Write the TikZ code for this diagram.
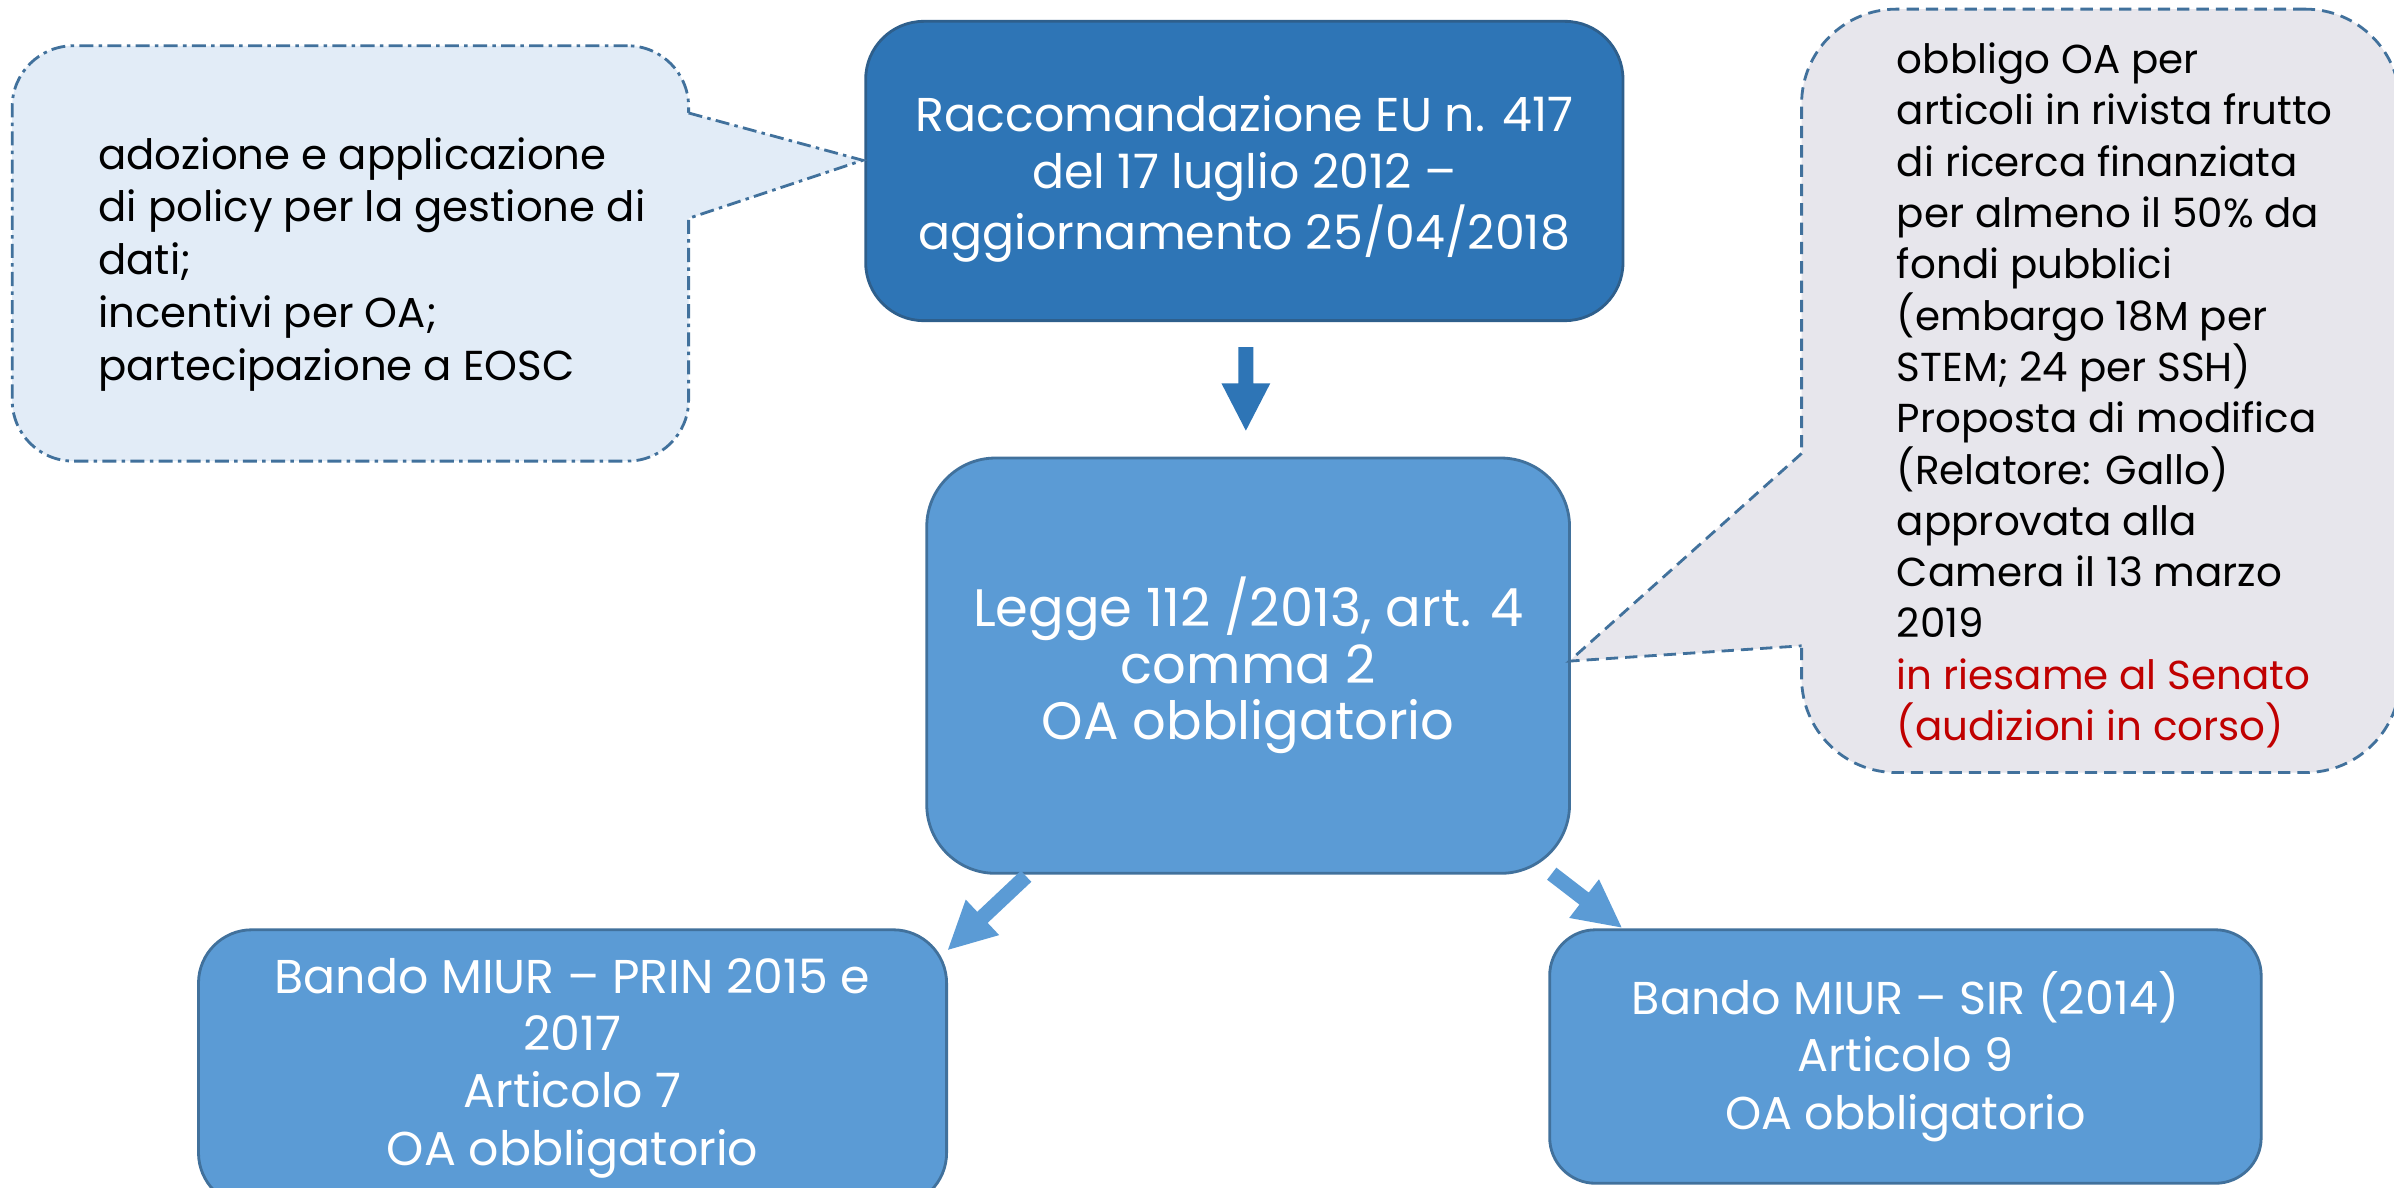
\documentclass[tikz,border=0pt]{standalone}
\usepackage{fontspec}
\setmainfont{Poppins}
\usetikzlibrary{calc}
\definecolor{topblue}{HTML}{2E75B6}
\definecolor{midblue}{HTML}{5B9BD5}
\definecolor{edgeblue}{HTML}{41719C}
\definecolor{topedge}{HTML}{2E5F8C}
\definecolor{lcfill}{HTML}{E2ECF7}
\definecolor{rcfill}{HTML}{E7E6EC}
\definecolor{darkred}{HTML}{C00000}
\tikzset{
  boxbase/.style={draw=edgeblue, line width=0.8pt, text=white, align=center, inner sep=0pt, fill=midblue},
  topbox/.style={boxbase, fill=topblue, draw=topedge},
  boxfont/.style={font=\fontsize{13.5}{16.3}\selectfont},
  callfont/.style={font=\fontsize{11.5}{14.5}\selectfont, text=black, align=left, inner sep=0pt},
  lcborder/.style={draw=edgeblue, line width=0.8pt, dash pattern=on 4pt off 1.5pt on 1pt off 1.5pt},
  rcborder/.style={draw=edgeblue, line width=0.8pt, dash pattern=on 3.5pt off 2pt},
}
\newcommand\blockarrow[3]{%
  \coordinate (ah) at ($(#3)!4.73mm!(#2)$);
  \fill[#1] ($(#2)!0.76mm!90:(#3)$) -- ($(ah)!0.76mm!90:(#3)$) -- ($(ah)!2.44mm!90:(#3)$)
    -- (#3) -- ($(ah)!2.44mm!-90:(#3)$) -- ($(ah)!0.76mm!-90:(#3)$) -- ($(#2)!0.76mm!-90:(#3)$) -- cycle;
}
\begin{document}
\begin{tikzpicture}[x=0.15268mm,y=-0.15268mm]
\useasboundingbox (0,0) rectangle (1568,778);
\clip (0,0) rectangle (1568,778);
\fill[white] (0,0) rectangle (1568,778);

% main boxes
\node[topbox, rounded corners=5.8mm, minimum width=75.73mm, minimum height=29.93mm] (top) at (815,112) {};
\node[boxbase, boxfont, draw=none, fill=none] (toptext) at ($(top.center)+(0,5)$)
  {Raccomandazione EU n. 417\\del 17 luglio 2012 –\\aggiornamento 25/04/2018};
\node[boxbase, font=\fontsize{15}{16.1}\selectfont, rounded corners=6.87mm, minimum width=64.28mm, minimum height=41.53mm] (mid) at (817.5,436)
  {Legge 112 /2013, art. 4\\comma 2\\OA obbligatorio};
\node[boxbase, boxfont, rounded corners=5.34mm, minimum width=74.81mm, minimum height=27.64mm] (bl) at (375,699.5)
  {Bando MIUR – PRIN 2015 e\\2017\\Articolo 7\\OA obbligatorio};
\node[boxbase, font=\fontsize{13.1}{16.4}\selectfont, rounded corners=4.58mm, minimum width=71.15mm, minimum height=25.35mm] (br) at (1248,692)
  {Bando MIUR – SIR (2014)\\Articolo 9\\OA obbligatorio};

% left callout
\node[lcborder, fill=lcfill, rounded corners=6.1mm, minimum width=67.64mm, minimum height=41.53mm, inner sep=0pt] (lc) at (229.5,166) {};
\coordinate (lca) at (451,74);
\coordinate (lcb) at (451,143);
\coordinate (lctip) at ($(top.west)+(-1,-7)$);
\fill[lcfill] ($(lca)+(-5,0)$) -- (lca) -- (lctip) -- (lcb) -- ($(lcb)+(-5,0)$) -- cycle;
\draw[lcborder] (lca) -- (lctip) -- (lcb);
\node[callfont, font=\fontsize{11.9}{15}\selectfont, anchor=west] (lctext) at (64,173)
  {adozione e applicazione\\di policy per la gestione di\\dati;\\incentivi per OA;\\partecipazione a EOSC};

% right callout
\node[rcborder, fill=rcfill, rounded corners=9.47mm, minimum width=59.85mm, minimum height=76.34mm, inner sep=0pt] (rc) at (1376,256) {};
\coordinate (rca) at (1180,297);
\coordinate (rcb) at (1180,423);
\coordinate (rctip) at ($(mid.east)+(-1,-3)$);
\fill[rcfill] ($(rca)+(5,0)$) -- (rca) -- (rctip) -- (rcb) -- ($(rcb)+(5,0)$) -- cycle;
\draw[rcborder] (rca) -- (rctip) -- (rcb);
\node[callfont, font=\fontsize{11.5}{14.6}\selectfont, anchor=west] (rctext) at (1242,259)
  {obbligo OA per\\articoli in rivista frutto\\di ricerca finanziata\\per almeno il 50\% da\\fondi pubblici\\(embargo 18M per\\STEM; 24 per SSH)\\Proposta di modifica\\(Relatore: Gallo)\\approvata alla\\Camera il 13 marzo\\2019\\\textcolor{darkred}{in riesame al Senato}\\\textcolor{darkred}{(audizioni in corso)}};

% arrows
\coordinate (a1s) at ($(top.south)+(1,16.5)$);
\coordinate (a1e) at ($(mid.north)+(-1.5,-17)$);
\blockarrow{topblue}{a1s}{a1e}
\coordinate (a2s) at ($(mid.south west)+(66,1)$);
\coordinate (a2e) at ($(bl.north east)+(0,14)$);
\blockarrow{midblue}{a2s}{a2e}
\coordinate (a3s) at ($(mid.south east)+(-12.6,-0.7)$);
\coordinate (a3e) at ($(br.north west)+(48,-0.6)$);
\blockarrow{midblue}{a3s}{a3e}
\end{tikzpicture}
\end{document}
